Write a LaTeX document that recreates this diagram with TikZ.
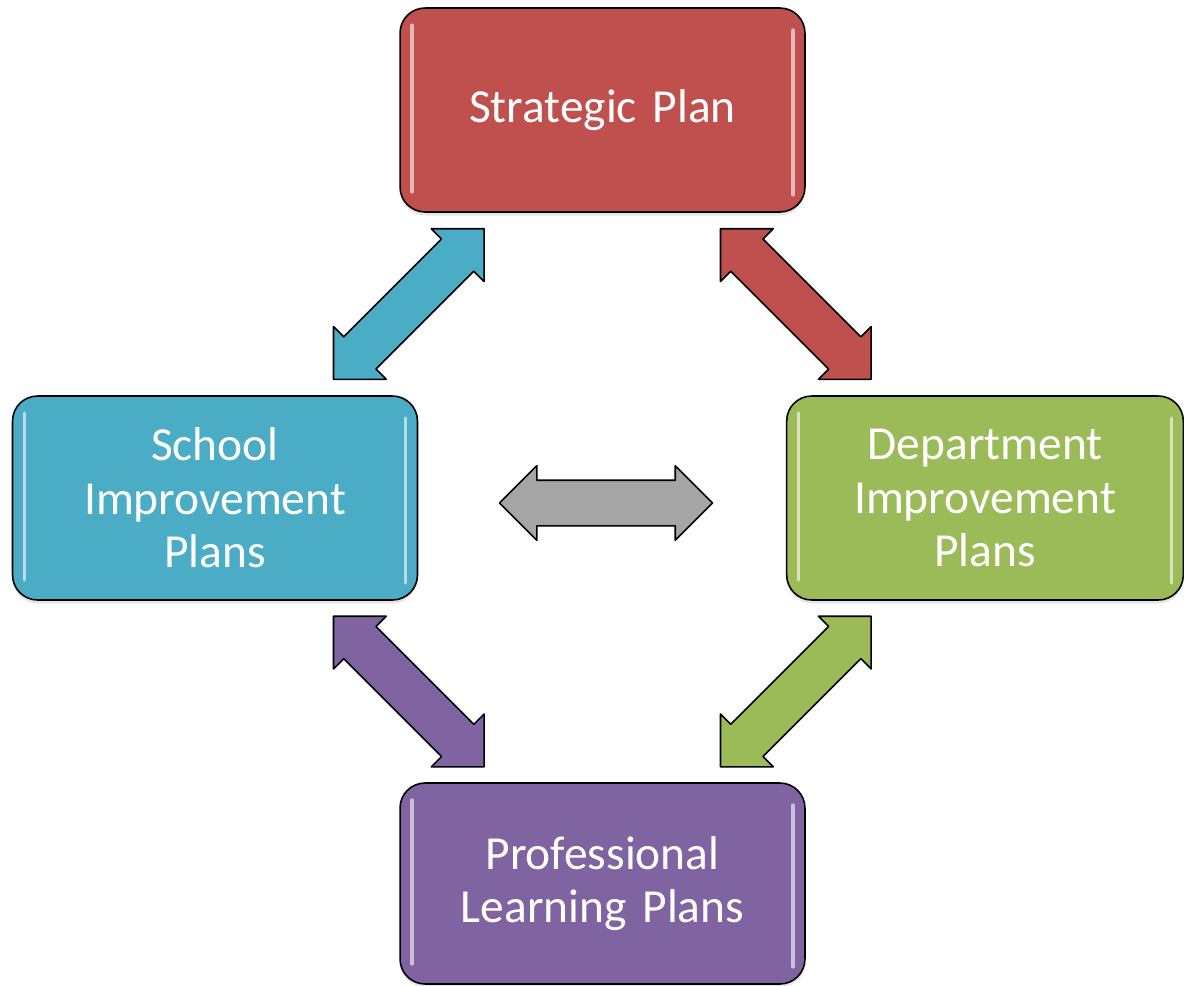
\documentclass[tikz,border=0pt]{standalone}
\usepackage{fontspec}
\setmainfont{Carlito}
\usetikzlibrary{shapes.arrows,calc,shadows}
\definecolor{planred}{HTML}{C0504D}
\definecolor{planblue}{HTML}{4BACC6}
\definecolor{plangreen}{HTML}{9BBB59}
\definecolor{planpurple}{HTML}{8064A2}
\definecolor{plangray}{HTML}{A5A5A5}

\begin{document}
\begin{tikzpicture}[x=0.02cm,y=-0.02cm,
  planbox/.style={draw=black, line width=0.9pt, rounded corners=0.5cm,
    minimum width=8.1cm, minimum height=4.08cm, text width=7.7cm,
    align=center, text=white, font=\fontsize{27}{30.5}\selectfont,
    drop shadow={opacity=0.2, shadow xshift=0pt, shadow yshift=-2pt},
    path picture={
      \draw[white, opacity=0.6, line width=1.8pt, line cap=round]
        ([xshift=0.24cm,yshift=-0.34cm]path picture bounding box.north west)
          -- ([xshift=0.24cm,yshift=0.4cm]path picture bounding box.south west)
        ([xshift=-0.24cm,yshift=-0.44cm]path picture bounding box.north east)
          -- ([xshift=-0.24cm,yshift=0.34cm]path picture bounding box.south east);
    }},
  linkarrow/.style={double arrow, draw=black, line width=0.9pt, line join=round,
    minimum height=4.26cm, inner xsep=0pt, inner ysep=0.44cm,
    double arrow head extend=0.29cm}]
\useasboundingbox (0,0) rectangle (1184,985);
% Plans
\node[planbox, fill=planred] (strategic) at (602.5,110) {Strategic Plan};
\node[planbox, fill=planblue] (school) at (215,498) {School\\Improvement\\Plans};
\node[planbox, fill=plangreen, minimum width=7.9cm] (department) at (985,498) {Department\\Improvement\\Plans};
\node[planbox, fill=planpurple, minimum height=4.02cm] (professional) at (602.5,883.5) {Professional\\Learning Plans};
% Links between plans
\node[linkarrow, fill=planblue, rotate=45] (schoollink) at ($(strategic.south west)!0.5!(school.north east)$) {};
\node[linkarrow, fill=planred, rotate=-45] (departmentlink) at ($(strategic.south east)!0.5!(department.north west)$) {};
\node[linkarrow, fill=planpurple, rotate=-45] (learninglink) at ($(school.south east)!0.5!(professional.north west)$) {};
\node[linkarrow, fill=plangreen, rotate=45] (professionallink) at ($(department.south west)!0.5!(professional.north east)$) {};
\node[linkarrow, fill=plangray] (crosslink) at ($(school.east)!0.5!(department.west)+(4,5)$) {};
\end{tikzpicture}
\end{document}
